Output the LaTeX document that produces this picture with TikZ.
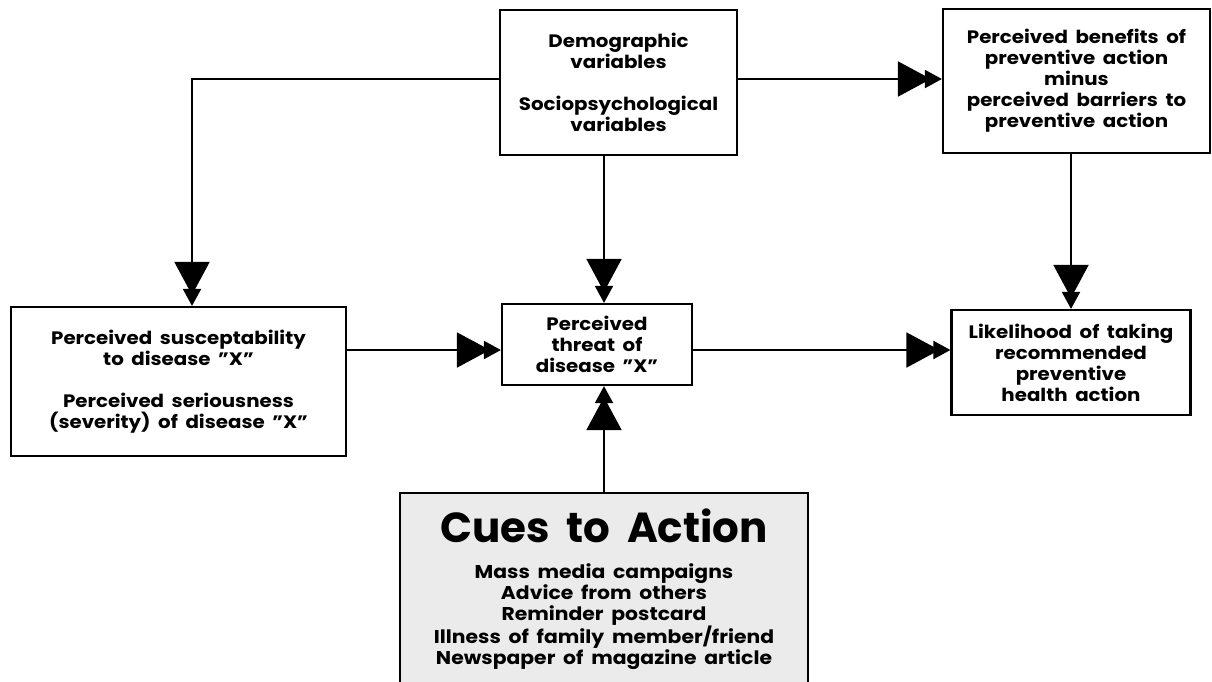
\documentclass[tikz,border=0pt]{standalone}
\usepackage{fontspec}
\setmainfont{Poppins}[FakeStretch=1.1]
\newfontfamily\headfont{Poppins}
\usetikzlibrary{arrows.meta,calc}
\newcommand{\qX}{\char34 X\char34}
\newcommand{\widespace}{\spaceskip=0.42em plus 0.1em\relax}
\newcommand{\titlespace}{\spaceskip=0.4em\relax}
\begin{document}
\begin{tikzpicture}[x=1pt,y=-1pt,
  box/.style={draw, line width=2.2pt, inner sep=0pt, align=center,
    font=\bfseries\fontsize{18}{21}\selectfont\widespace},
  txt/.style={inner sep=0pt, align=center},
  arr/.style={line width=1.9pt,
    -{Triangle[length=33pt,width=35pt,sep=-6pt]Triangle[length=17pt,width=18pt]}},
]
\clip (0,0) rectangle (1212,681);
\fill[white] (0,0) rectangle (1212,681);

% boxes
\node[box, minimum width=237pt, minimum height=145pt] (demo) at (618.5,82.5)
  {Demographic\\variables\\[21pt]Sociopsychological\\variables};
\node[box, minimum width=267pt, minimum height=144pt] (ben) at (1076.5,81)
  {Perceived benefits of\\preventive action\\minus\\perceived barriers to\\preventive action};
\node[box, minimum width=335pt, minimum height=149pt] (susc) at (178.5,381.5)
  {Perceived susceptability\\to disease \qX\\[21pt]Perceived seriousness\\(severity) of disease \qX};
\node[box, minimum width=190pt, minimum height=81pt] (thr) at (597,344.5)
  {Perceived\\threat of\\disease \qX};
\node[box, minimum width=239pt, minimum height=105pt] (lik) at (1071,362.5)
  {Likelihood of taking\\recommended\\preventive\\health action};
\node[draw, line width=2.2pt, fill=black!8, minimum width=408pt, minimum height=210pt,
  inner sep=0pt] (cues) at (604,598) {};
\node[txt, anchor=base, font=\headfont\bfseries\fontsize{42}{46}\selectfont\titlespace] (cuesT) at (604,542)
  {Cues to Action};
\node[txt, anchor=north, font=\bfseries\fontsize{18.5}{21}\selectfont\widespace] (cuesB) at (604,563)
  {Mass media campaigns\\Advice from others\\Reminder postcard\\Illness of family member/friend\\Newspaper of magazine article};

% connectors
\coordinate (yTop) at (0,79);
\coordinate (yMid) at (0,350);
\coordinate (xS) at (192,0);
\draw[arr] (demo.west |- yTop) -| (xS |- susc.north);
\draw[arr] (demo.east |- yTop) -- (ben.west |- yTop);
\draw[arr] (demo.south -| cues.north) -- (thr.north -| cues.north);
\draw[arr] (cues.north) -- (thr.south -| cues.north);
\draw[arr] (susc.east |- yMid) -- (thr.west |- yMid);
\draw[arr] (thr.east |- yMid) -- (lik.west |- yMid);
\draw[arr] (ben.south -| lik.north) -- (lik.north);
\end{tikzpicture}
\end{document}
